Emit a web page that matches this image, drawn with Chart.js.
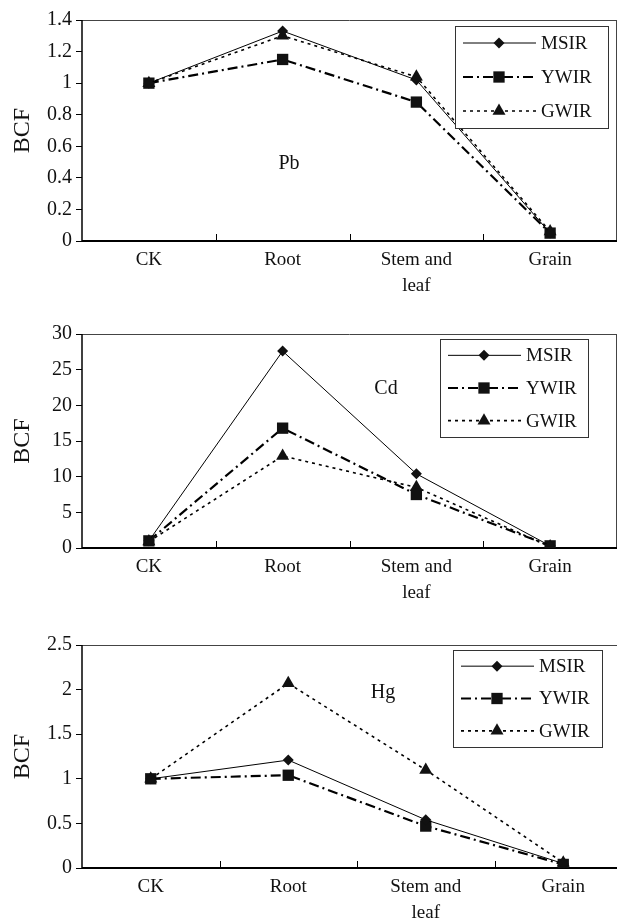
<!DOCTYPE html>
<html>
<head>
<meta charset="utf-8">
<script src="https://cdn.jsdelivr.net/npm/chart.js"></script>
<style>
  html, body { margin: 0; padding: 0; background: #fff; overflow: hidden; }
  body { width: 617px; height: 920px; position: relative; }
  canvas { position: absolute; left: 0; }
</style>
</head>
<body>
<canvas id="pbChart" width="617" height="300" style="top:0px"></canvas>
<canvas id="cdChart" width="617" height="310" style="top:300px"></canvas>
<canvas id="hgChart" width="632" height="310" style="top:610px"></canvas>
<script>
const categories = ["CK", "Root", ["Stem and", "leaf"], "Grain"];
const seriesNames = ["MSIR", "YWIR", "GWIR"];

// Pb
const pbMSIR = [1.0, 1.33, 1.02, 0.05];
const pbYWIR = [1.0, 1.15, 0.88, 0.05];
const pbGWIR = [1.0, 1.30, 1.04, 0.06];
const pbTicks = [0, 0.2, 0.4, 0.6, 0.8, 1, 1.2, 1.4];

// Cd
const cdMSIR = [1.0, 27.6, 10.4, 0.3];
const cdYWIR = [1.0, 16.8, 7.5, 0.3];
const cdGWIR = [0.9, 12.9, 8.5, 0.2];
const cdTicks = [0, 5, 10, 15, 20, 25, 30];

// Hg
const hgMSIR = [1.0, 1.21, 0.54, 0.05];
const hgYWIR = [1.0, 1.04, 0.47, 0.04];
const hgGWIR = [1.0, 2.07, 1.10, 0.06];
const hgTicks = [0, 0.5, 1, 1.5, 2, 2.5];

const FONT = "'Liberation Serif', 'DejaVu Serif', serif";
const INK = "#111";

const seriesStyles = [
  { pointStyle: "rectRot", pointRadius: 5.5, borderWidth: 1, borderDash: [] },
  { pointStyle: "rect", pointRadius: 8, borderWidth: 2.2, borderDash: [10, 4, 2, 4] },
  { pointStyle: "triangle", pointRadius: 7.5, borderWidth: 1.6, borderDash: [3, 4] },
];

function drawMarker(ctx, style, r, x, y) {
  ctx.beginPath();
  if (style === "rect") {
    const s = Math.SQRT1_2 * r;
    ctx.rect(x - s, y - s, 2 * s, 2 * s);
  } else if (style === "rectRot") {
    ctx.moveTo(x, y - r); ctx.lineTo(x + r, y); ctx.lineTo(x, y + r); ctx.lineTo(x - r, y);
    ctx.closePath();
  } else {
    ctx.moveTo(x, y - r);
    ctx.lineTo(x + r * Math.cos(Math.PI / 6), y + r * 0.5);
    ctx.lineTo(x - r * Math.cos(Math.PI / 6), y + r * 0.5);
    ctx.closePath();
  }
  ctx.fill();
}

const framePlugin = {
  id: "frame",
  beforeDatasetsDraw(chart) {
    const { ctx, chartArea: a } = chart;
    const xs = chart.scales.x;
    ctx.save();
    ctx.setLineDash([]);
    ctx.strokeStyle = "#444";
    ctx.lineWidth = 1;
    ctx.beginPath();
    ctx.moveTo(a.left, a.top + 0.5); ctx.lineTo(a.right, a.top + 0.5);
    ctx.moveTo(a.right - 0.5, a.top); ctx.lineTo(a.right - 0.5, a.bottom);
    ctx.stroke();
    ctx.strokeStyle = "#000";
    ctx.lineWidth = 1.5;
    ctx.beginPath();
    ctx.moveTo(a.left, a.top); ctx.lineTo(a.left, a.bottom);
    ctx.stroke();
    ctx.lineWidth = 2;
    ctx.beginPath();
    ctx.moveTo(a.left, a.bottom); ctx.lineTo(a.right, a.bottom);
    ctx.stroke();
    ctx.lineWidth = 1;
    ctx.beginPath();
    for (let i = 1; i < categories.length; i++) {
      const px = Math.round((xs.getPixelForValue(i - 1) + xs.getPixelForValue(i)) / 2) + 0.5;
      ctx.moveTo(px, a.bottom);
      ctx.lineTo(px, a.bottom - 7);
    }
    ctx.stroke();
    ctx.restore();
  },
  afterDraw(chart, args, opts) {
    const ctx = chart.ctx;
    ctx.save();
    // element label
    ctx.fillStyle = INK;
    ctx.font = "20px " + FONT;
    ctx.textAlign = "center";
    ctx.textBaseline = "middle";
    ctx.fillText(opts.label, opts.labelX, opts.labelY);
    // legend box
    const [bx, by, bw, bh] = opts.box;
    ctx.fillStyle = "#fff";
    ctx.fillRect(bx, by, bw, bh);
    ctx.strokeStyle = "#333";
    ctx.lineWidth = 1;
    ctx.strokeRect(bx + 0.5, by + 0.5, bw, bh);
    chart.data.datasets.forEach((ds, i) => {
      const st = seriesStyles[i];
      const ry = by + bh * (1 + 2 * i) / 6;
      ctx.strokeStyle = "#000";
      ctx.lineWidth = st.borderWidth;
      ctx.setLineDash(st.borderDash);
      ctx.beginPath();
      ctx.moveTo(bx + 8, ry); ctx.lineTo(bx + 81, ry);
      ctx.stroke();
      ctx.setLineDash([]);
      ctx.fillStyle = INK;
      drawMarker(ctx, st.pointStyle, st.pointRadius, bx + 44, ry);
      ctx.font = "19px " + FONT;
      ctx.textAlign = "left";
      ctx.textBaseline = "middle";
      ctx.fillText(ds.label, bx + 86, ry + 1);
    });
    ctx.restore();
  }
};

function makeChart(id, values, ticks, frame, layout) {
  const ctx = document.getElementById(id).getContext("2d");
  return new Chart(ctx, {
    type: "line",
    data: {
      labels: categories,
      datasets: values.map((v, i) => ({
        label: seriesNames[i],
        data: v,
        borderColor: "#000",
        backgroundColor: INK,
        pointBackgroundColor: INK,
        pointBorderColor: INK,
        pointBorderWidth: 0,
        borderWidth: seriesStyles[i].borderWidth,
        borderDash: seriesStyles[i].borderDash,
        pointStyle: seriesStyles[i].pointStyle,
        pointRadius: seriesStyles[i].pointRadius,
        tension: 0,
        fill: false,
      })),
    },
    options: {
      responsive: false,
      animation: false,
      layout: { autoPadding: false, padding: { top: layout.top, left: 0, right: 0, bottom: 0 } },
      plugins: {
        legend: { display: false },
        tooltip: { enabled: false },
        frame: frame,
      },
      scales: {
        x: {
          offset: true,
          grid: { display: false, drawTicks: false },
          border: { display: false },
          ticks: {
            color: INK,
            padding: 6,
            maxRotation: 0,
            autoSkip: false,
            font: { family: FONT, size: 19, lineHeight: 1.37 },
          },
          afterFit(scale) { scale.height = layout.xHeight; },
        },
        y: {
          min: ticks[0],
          max: ticks[ticks.length - 1],
          afterBuildTicks(scale) { scale.ticks = ticks.map(v => ({ value: v })); },
          grid: { drawOnChartArea: false, drawTicks: true, tickLength: 6, color: "#000" },
          border: { display: false },
          ticks: {
            color: INK,
            padding: 4,
            font: { family: FONT, size: 20 },
            callback: v => String(v),
          },
          title: {
            display: true,
            text: "BCF",
            color: INK,
            padding: { top: 8, bottom: 0 },
            font: { family: FONT, size: 24 },
          },
          afterFit(scale) { scale.width = 82; },
        },
      },
    },
    plugins: [framePlugin],
  });
}

makeChart("pbChart", [pbMSIR, pbYWIR, pbGWIR], pbTicks,
  { label: "Pb", labelX: 289, labelY: 164, box: [455, 26, 153, 102] },
  { top: 20, xHeight: 59 });

makeChart("cdChart", [cdMSIR, cdYWIR, cdGWIR], cdTicks,
  { label: "Cd", labelX: 386, labelY: 89, box: [440, 39, 148, 98] },
  { top: 34, xHeight: 62 });

makeChart("hgChart", [hgMSIR, hgYWIR, hgGWIR], hgTicks,
  { label: "Hg", labelX: 383, labelY: 83, box: [453, 40, 149, 97] },
  { top: 35, xHeight: 52 });
</script>
</body>
</html>
